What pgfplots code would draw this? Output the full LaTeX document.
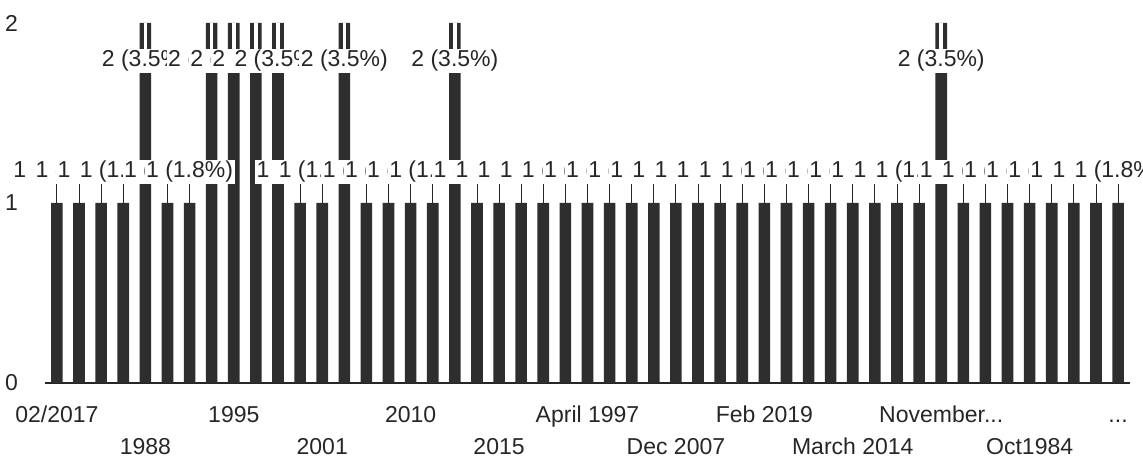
\documentclass[border=0pt]{standalone}
\usepackage{fontspec}
\setmainfont{Liberation Sans}
\usepackage{pgfplots}
\usepackage{pgfplotstable}
\pgfplotsset{compat=1.18}
\newcommand{\tdots}{.\kern0pt.\kern0pt.}

% x = category index, y = value, ly = label height, e = leader line length, w = hollow top part
\pgfplotstableread{
x y ly e w
0 1 1.172 0.11 0
1 1 1.172 0.11 0
2 1 1.172 0.11 0
3 1 1.172 0.11 0
4 2 1.789 0 0.21
5 1 1.172 0.11 0
6 1 1.172 0.11 0
7 2 1.789 0 0.21
8 2 1.789 0 0.21
9 2 1.789 0 0.21
10 2 1.789 0 0.21
11 1 1.172 0.11 0
12 1 1.172 0.11 0
13 2 1.789 0 0.21
14 1 1.172 0.11 0
15 1 1.172 0.11 0
16 1 1.172 0.11 0
17 1 1.172 0.11 0
18 2 1.789 0 0.21
19 1 1.172 0.11 0
20 1 1.172 0.11 0
21 1 1.172 0.11 0
22 1 1.172 0.11 0
23 1 1.172 0.11 0
24 1 1.172 0.11 0
25 1 1.172 0.11 0
26 1 1.172 0.11 0
27 1 1.172 0.11 0
28 1 1.172 0.11 0
29 1 1.172 0.11 0
30 1 1.172 0.11 0
31 1 1.172 0.11 0
32 1 1.172 0.11 0
33 1 1.172 0.11 0
34 1 1.172 0.11 0
35 1 1.172 0.11 0
36 1 1.172 0.11 0
37 1 1.172 0.11 0
38 1 1.172 0.11 0
39 1 1.172 0.11 0
40 2 1.789 0 0.21
41 1 1.172 0.11 0
42 1 1.172 0.11 0
43 1 1.172 0.11 0
44 1 1.172 0.11 0
45 1 1.172 0.11 0
46 1 1.172 0.11 0
47 1 1.172 0.11 0
48 1 1.172 0.11 0
}\data

\begin{document}
\fontsize{23}{27}\selectfont
\begin{tikzpicture}
\begin{axis}[
  at={(45pt,80pt)}, anchor=south west,
  width=1085pt, height=360pt, scale only axis,
  xmin=-0.54, xmax=48.54, ymin=0, ymax=2,
  axis x line*=bottom, axis y line*=left,
  y axis line style={draw=none},
  x axis line style={black!85, line width=1.2pt},
  xtick={0,4,8,12,16,20,24,28,32,36,40,44,48},
  xticklabels={02/2017,\raisebox{-32pt}{1988},1995,\raisebox{-32pt}{2001},2010,\raisebox{-32pt}{2015},April 1997,\raisebox{-32pt}{Dec 2007},Feb 2019,\raisebox{-32pt}{March 2014},November\tdots,\raisebox{-32pt}{Oct1984},\tdots},
  ytick={0,1,2}, yticklabels={0,1,2},
  xtick style={draw=none}, ytick style={draw=none},
  xticklabel style={anchor=north, inner sep=0pt, text height=17pt, text depth=5pt, yshift=-22pt, text=black!85},
  yticklabel style={anchor=east, inner sep=0pt, xshift=-27pt, text=black!85},
  /pgf/number format/assume math mode=true,
  clip=false,
]
\addplot[ybar, bar width=11.6pt, fill=black!82, draw=none] table[x=x, y=y]{\data};
\addplot[draw=none, mark=none, forget plot,
  error bars/.cd, y dir=plus, y explicit, error mark=none,
  error bar style={black!85, line width=0.9pt}]
  table[x=x, y=y, y error plus=e]{\data};
\addplot[draw=none, mark=none, forget plot,
  error bars/.cd, y dir=plus, y explicit, error mark=none,
  error bar style={white, line width=3.5pt}]
  table[x=x, y=ly, y error plus=w]{\data};
\addplot[draw=none, mark=none,
  point meta=explicit symbolic,
  nodes near coords={\pgfplotspointmeta\ (\if2\pgfplotspointmeta 3.5\else 1.8\fi\%)},
  nodes near coords style={anchor=center, fill=white, inner sep=1.5pt, text=black!85}]
  table[x=x, y=ly, meta=y]{\data};
\end{axis}
\pgfresetboundingbox
\path (0,0) rectangle (1143pt,463pt);
\end{tikzpicture}
\end{document}
